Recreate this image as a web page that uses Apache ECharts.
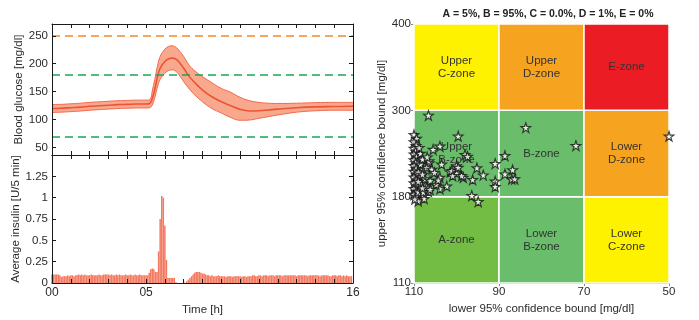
<!DOCTYPE html>
<html>
<head>
<meta charset="utf-8">
<script src="https://cdn.jsdelivr.net/npm/echarts@6/dist/echarts.min.js"></script>
<style>
html,body{margin:0;padding:0;background:#fff;}
#chart{width:699px;height:320px;}
</style>
</head>
<body>
<div id="chart"></div>
<script>
// ---------- Glucose (top-left) ----------
var glucoseTime = [0,0.5,1,1.5,2,2.5,3,3.5,4,4.5,5,5.2,5.35,5.5,5.6,5.75,6,6.2,6.4,6.6,6.8,7,7.3,7.6,8,8.5,9,9.5,10,10.5,11,11.5,12,13,14,15,16];
var glucoseMean = [120,120.5,121.5,122.5,124,125,126,127,127.5,128,128,129,140,160,176,192,204,209,210,208,201,192,177,166,153,141,132,125,118.5,115.5,116,117.5,119,121.5,123,123.5,124];
var glucoseUpper = [127,127.5,128.5,129.5,131,132,133,134,134.5,135,135,136,155,178,195,213,226,231,232,229,222,213,197,187,177,166,156,149,140,134,131,129.5,129,129.5,130.5,131,131];
var glucoseLower = [113,113.5,114.5,115.5,117,118,119,120,120.5,121,121,121.5,128,144,158,172,183,188,189,186,178,168,155,144,132,120,112,104,99,99.5,102.5,105.5,108.5,113.5,116,117,117];
var hyperLimit = 250;
var targetUpper = 180;
var targetLower = 70;

// ---------- Insulin (bottom-left), one value per 5 min ----------
var insulinStepMinutes = 5;
var insulin = [
0.10,0.10,0.10,0.10,0.10,0.09,0.07,0.08,0.08,0.08,0.09,0.08,
0.09,0.09,0.08,0.09,0.09,0.10,0.09,0.10,0.09,0.10,0.09,0.09,
0.09,0.10,0.09,0.09,0.09,0.09,0.10,0.09,0.09,0.10,0.10,0.10,
0.10,0.09,0.10,0.09,0.09,0.10,0.09,0.10,0.09,0.09,0.09,0.10,
0.09,0.09,0.10,0.09,0.09,0.10,0.09,0.09,0.10,0.09,0.09,0.09,
0.09,0.09,0.12,0.16,0.17,0.16,0.13,0.13,0.37,0.75,1.02,1.00,
0.67,0.27,0.06,0.06,0.06,0.06,0.06,0.01,0.00,0.00,0.00,0.00,
0.02,0.00,0.02,0.04,0.06,0.08,0.10,0.12,0.13,0.13,0.13,0.12,
0.11,0.11,0.10,0.09,0.09,0.08,0.09,0.08,0.08,0.08,0.09,0.08,
0.08,0.08,0.08,0.07,0.08,0.08,0.08,0.07,0.08,0.08,0.08,0.08,
0.08,0.07,0.08,0.08,0.07,0.08,0.08,0.08,0.09,0.09,0.08,0.08,
0.09,0.09,0.08,0.09,0.09,0.09,0.08,0.09,0.09,0.09,0.08,0.09,
0.09,0.09,0.09,0.08,0.09,0.09,0.09,0.09,0.09,0.09,0.09,0.09,
0.08,0.09,0.09,0.09,0.09,0.09,0.09,0.08,0.09,0.09,0.09,0.09,
0.09,0.09,0.09,0.08,0.09,0.09,0.09,0.09,0.09,0.08,0.08,0.09,
0.09,0.09,0.08,0.09,0.09,0.08,0.09,0.08,0.09,0.08,0.08,0.08
];
var timeTickValues = [0,5,16];
var timeTickText = ['00','05','16'];

// ---------- Error grid (right) ----------
var title = 'A = 5%, B = 95%, C = 0.0%, D = 1%, E = 0%';
var zoneX = [110, 90, 70, 50];          // lower bound boundaries
var zoneY = [110, 180, 300, 400];       // upper bound boundaries (tick labels)
var zoneNames = [
  ['A-zone', 'Lower\nB-zone', 'Lower\nC-zone'],
  ['Upper\nB-zone', 'B-zone', 'Lower\nD-zone'],
  ['Upper\nC-zone', 'Upper\nD-zone', 'E-zone']
];
var zoneColors = [
  ['#73bd45', '#6abd6a', '#fff200'],
  ['#6abd6a', '#6abd6a', '#f6a31f'],
  ['#fff200', '#f6a31f', '#ec1c24']
];
var lowerCI = [110,109.4,110,109.5,110,109.6,110,109.4,110,109.6,110,109.5,110,109.5,110,109.5,110,109.5,110,109.5,110,109.5,
  106.6,83.7,50,71.9,99.6,103.9,105.5,88.6,98,97.4,106.4,103.5,100,95.2,90.9,86.8,88.6,93.7,87,86.3,90.9,90.9,96.2,98.4,
  98.8,100,101.5,101.1,100.9,102.3,103.9,96.4,94.9,109,107.6,106.6,106.5,107.8,107,105.8,105.2,103.9,108.6,107.4,106.2,
  108.4,107,104.8,109,107.8,106.2,99.6,108.5,108.5,108,109,108,109,108,104.3,106.9,108.8,109.8];
var upperCI = [266,261,256,251,247,243,239,235,231,227,223,219,215,211,207,203,199,195,191,187,183,180.5,
  293,276,264,251,264,250,245.5,237,238.5,236,227,225,222.7,220,226,217.3,211.4,210,204.5,204.5,201.4,194,203.6,206.8,
  209,212.7,214.5,216,209,194.6,191,181.5,176,176.5,178.4,187,229.5,218,220.5,218,213.5,206.8,209,204.5,202.2,
  197.7,193.2,197,186.4,186.4,190,220.5,240,225,232,214,211,201,192,203,235,248,178];

// ---------- helpers ----------
function toBand(v) {
  for (var k = 0; k < zoneY.length - 1; k++) {
    if (v <= zoneY[k + 1] || k === zoneY.length - 2) {
      return k + (v - zoneY[k]) / (zoneY[k + 1] - zoneY[k]);
    }
  }
}
function pairs(xs, ys) { return xs.map(function (x, i) { return [x, ys[i]]; }); }

var insulinData = insulin.map(function (v, i) { return [i * insulinStepMinutes / 60, v]; });
var scatterData = lowerCI.map(function (x, i) { return [x, toBand(upperCI[i])]; });

var zoneAreas = [];
for (var r = 0; r < 3; r++) {
  for (var c = 0; c < 3; c++) {
    zoneAreas.push([
      { name: zoneNames[r][c], xAxis: zoneX[c], yAxis: r, itemStyle: { color: zoneColors[r][c] } },
      { xAxis: zoneX[c + 1], yAxis: r + 1 }
    ]);
  }
}

var FONT = 'Liberation Sans, Arial, Helvetica, sans-serif';
var TXT = '#2b2b2b';
var starPath = 'path://M50,2 L61.5,36.5 L97.5,36.5 L68.5,58 L79.5,93 L50,71.5 L20.5,93 L31.5,58 L2.5,36.5 L38.5,36.5 Z';

function frameX(grid, pos, showLabel, extra) {
  var o = {
    type: 'value', gridIndex: grid, position: pos, min: 0, max: 16, interval: 1, z: 10,
    axisLine: { show: true, onZero: false, lineStyle: { color: '#1a1a1a', width: 1 } },
    axisTick: { show: true, inside: true, length: 4, lineStyle: { color: '#1a1a1a' } },
    axisLabel: { show: showLabel },
    splitLine: { show: false }
  };
  return Object.assign(o, extra || {});
}
function frameY(grid, pos, min, max, showLabel, extra) {
  var o = {
    type: 'value', gridIndex: grid, position: pos, min: min, max: max, z: 10,
    axisLine: { show: true, onZero: false, lineStyle: { color: '#1a1a1a', width: 1 } },
    axisTick: { show: true, inside: true, length: 4, lineStyle: { color: '#1a1a1a' } },
    axisLabel: { show: showLabel },
    splitLine: { show: false }
  };
  return Object.assign(o, extra || {});
}

var SMOOTH = 0.4;
var option = {
  animation: false,
  backgroundColor: '#fff',
  textStyle: { fontFamily: FONT },
  title: {
    text: title, left: 543, top: 4, textAlign: 'center',
    textStyle: { fontSize: 10.5, fontWeight: 'bold', color: '#222', fontFamily: FONT }
  },
  grid: [
    { left: 52, top: 24, width: 301, height: 131 },
    { left: 52, top: 155, width: 301, height: 128 },
    { left: 414, top: 24, width: 255, height: 260 }
  ],
  xAxis: [
    frameX(0, 'bottom', false),
    frameX(0, 'top', false),
    frameX(1, 'bottom', true, {
      name: 'Time [h]', nameLocation: 'middle', nameGap: 21,
      nameTextStyle: { fontSize: 11.5, color: TXT, fontFamily: FONT },
      axisLabel: {
        show: true, fontSize: 12, color: TXT, margin: 4, fontFamily: FONT,
        formatter: function (v) { var k = timeTickValues.indexOf(v); return k >= 0 ? timeTickText[k] : ''; }
      }
    }),
    frameX(1, 'top', false),
    {
      type: 'value', gridIndex: 2, position: 'bottom', min: 50, max: 110, interval: 20, inverse: true,
      name: 'lower 95% confidence bound [mg/dl]', nameLocation: 'middle', nameGap: 17,
      nameTextStyle: { fontSize: 11.5, color: TXT, fontFamily: FONT },
      axisLine: { show: true, onZero: false, lineStyle: { color: '#8a8a8a', width: 1 } },
      axisTick: { show: true, inside: false, length: 3, lineStyle: { color: '#8a8a8a' } },
      axisLabel: { fontSize: 11.5, color: TXT, margin: 3, fontFamily: FONT },
      splitLine: { show: false }
    }
  ],
  yAxis: [
    frameY(0, 'left', 37, 271, true, {
      splitNumber: 5,
      name: 'Blood glucose [mg/dl]', nameLocation: 'middle', nameGap: 25,
      nameTextStyle: { fontSize: 11.5, color: TXT, fontFamily: FONT },
      axisLabel: { show: true, fontSize: 11.5, color: TXT, margin: 4, showMinLabel: false, showMaxLabel: false, fontFamily: FONT }
    }),
    frameY(0, 'right', 37, 271, false, { splitNumber: 5 }),
    frameY(1, 'left', 0, 1.5, true, {
      interval: 0.25,
      name: 'Average insulin [U/5 min]', nameLocation: 'middle', nameGap: 26,
      nameTextStyle: { fontSize: 11.5, color: TXT, fontFamily: FONT },
      axisLabel: { show: true, fontSize: 11.5, color: TXT, margin: 4, showMaxLabel: false, fontFamily: FONT }
    }),
    frameY(1, 'right', 0, 1.5, false, { interval: 0.25 }),
    {
      type: 'value', gridIndex: 2, position: 'left', min: 0, max: 3, interval: 1,
      name: 'upper 95% confidence bound [mg/dl]', nameLocation: 'middle', nameGap: 24,
      nameTextStyle: { fontSize: 11.5, color: TXT, fontFamily: FONT },
      axisLine: { show: true, onZero: false, lineStyle: { color: '#8a8a8a', width: 1 } },
      axisTick: { show: true, inside: false, length: 3, lineStyle: { color: '#8a8a8a' } },
      axisLabel: { fontSize: 11.5, color: TXT, margin: 3, fontFamily: FONT,
        formatter: function (v) { return String(zoneY[v]); } },
      splitLine: { show: false }
    }
  ],
  series: [
    // band fill: upper filled down to axis, then masked by white below the lower bound
    {
      type: 'line', xAxisIndex: 0, yAxisIndex: 0, smooth: SMOOTH, symbol: 'none', silent: true,
      data: pairs(glucoseTime, glucoseUpper), lineStyle: { color: '#f2694c', width: 1 },
      areaStyle: { color: '#f8a88d', opacity: 1, origin: 'start' }, z: 2
    },
    {
      type: 'line', xAxisIndex: 0, yAxisIndex: 0, smooth: SMOOTH, symbol: 'none', silent: true,
      data: pairs(glucoseTime, glucoseLower), lineStyle: { color: '#f2694c', width: 1 },
      areaStyle: { color: '#ffffff', opacity: 1, origin: 'start' }, z: 3
    },
    {
      type: 'line', xAxisIndex: 0, yAxisIndex: 0, smooth: SMOOTH, symbol: 'none', silent: true,
      data: pairs(glucoseTime, glucoseMean), lineStyle: { color: '#eb5434', width: 1.6 }, z: 4
    },
    {
      type: 'line', xAxisIndex: 0, yAxisIndex: 0, data: [], silent: true, z: 6,
      markLine: {
        silent: true, symbol: 'none', label: { show: false }, animation: false, z: 6,
        data: [
          { yAxis: hyperLimit, lineStyle: { color: '#f5862b', width: 1.6, type: [8, 5] } },
          { yAxis: targetUpper, lineStyle: { color: '#17a852', width: 1.6, type: [8, 5] } },
          { yAxis: targetLower, lineStyle: { color: '#17a852', width: 1.6, type: [8, 5] } }
        ]
      }
    },
    {
      type: 'bar', xAxisIndex: 2, yAxisIndex: 2, data: insulinData, barWidth: 1.5,
      itemStyle: { color: '#f37a60' }, silent: true
    },
    {
      type: 'scatter', xAxisIndex: 4, yAxisIndex: 4, data: scatterData, clip: false,
      symbol: starPath, symbolSize: 9.5,
      itemStyle: { color: '#ffffff', borderColor: '#111', borderWidth: 1.2 },
      z: 5,
      markArea: {
        silent: true,
        itemStyle: { borderColor: '#ffffff', borderWidth: 1.5 },
        label: { show: true, position: 'inside', color: '#333', fontSize: 11.5, lineHeight: 13, fontFamily: FONT },
        data: zoneAreas
      }
    }
  ]
};

var chart = echarts.init(document.getElementById('chart'), null, { renderer: 'canvas' });
chart.setOption(option);
</script>
</body>
</html>
